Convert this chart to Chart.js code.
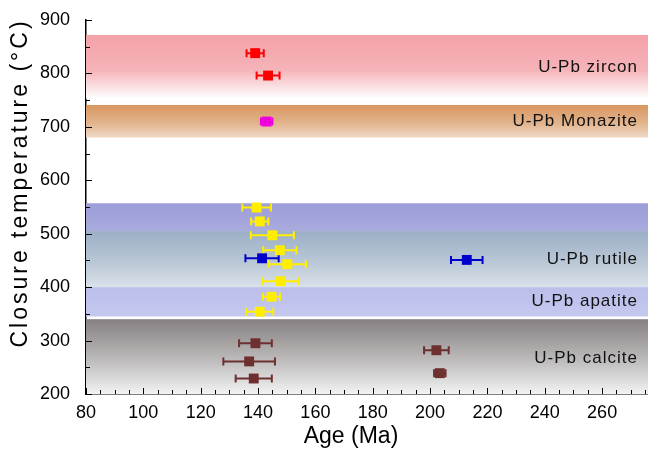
<!DOCTYPE html>
<html>
<head>
<meta charset="utf-8">
<script src="https://cdn.jsdelivr.net/npm/chart.js@4"></script>
<style>
  body { margin: 0; background: #fff; }
  #wrap { width: 648px; height: 450px; }
</style>
</head>
<body>
<div id="wrap"><canvas id="graph"></canvas></div>
<script>
// ages (Ma), closure temperatures (°C) and age errors (±Ma)
const zirconAge = [139, 143.5];
const zirconTemp = [838, 796];
const zirconErr = [3, 4];

const monaziteAge = [143];
const monaziteTemp = [710];
const monaziteErr = [2];

const yellowAge = [139.5, 140.6, 145, 147.6, 150.2, 147.9, 144.7, 140.6];
const yellowTemp = [549, 523, 497, 469, 443, 411, 382, 354];
const yellowErr = [5, 3, 7.5, 5.8, 6.5, 6.2, 3, 4.7];

const rutileAge = [141.4, 212.8];
const rutileTemp = [454, 451];
const rutileErr = [5.8, 5.5];

const calciteAge = [139.1, 136.9, 138.5, 202.2, 203.4];
const calciteTemp = [295, 261, 229, 282, 239];
const calciteErr = [5.7, 9, 6.3, 4.3, 2];

// closure temperature bands (°C)
const bandLow = [753, 680, 505, 400, 345, 200];
const bandHigh = [872, 741, 557, 505, 400, 340];
const bandColors = [
  ["#f3a2a8", "#f5b3b8", "#ffffff"],
  ["#d8965f", "#e2b38c", "#efd9c6"],
  ["#9d9dd9", "#a3a4db", "#a9acdc"],
  ["#9cafc6", "#b9c7d6", "#d9e1e9"],
  ["#bcbfea", "#c0c3ec", "#c6c9ee"],
  ["#868081", "#bdbbbb", "#f3f3f3"]
];

const bandLabels = ["U-Pb zircon", "U-Pb Monazite", "U-Pb rutile", "U-Pb apatite", "U-Pb calcite"];
const bandLabelTemp = [812, 710, 452, 374, 267];
const bandLabelAge = 272.5;

const xTicks = [80, 100, 120, 140, 160, 180, 200, 220, 240, 260];
const yTicks = [200, 300, 400, 500, 600, 700, 800, 900];

const fontFamily = "Arial, 'Liberation Sans', sans-serif";

function pts(ages, temps, errs) {
  return ages.map((a, i) => ({ x: a, y: temps[i], e: errs[i] }));
}

function series(ages, temps, errs, color) {
  return {
    data: pts(ages, temps, errs),
    backgroundColor: color,
    borderColor: color,
    pointStyle: "rect",
    pointRadius: 7,
    pointHoverRadius: 7,
    borderWidth: 0
  };
}

const backdrop = {
  id: "backdrop",
  beforeDatasetsDraw(chart) {
    const { ctx, chartArea, scales } = chart;
    const xs = scales.x, ys = scales.y;
    ctx.save();
    bandLow.forEach((lo, i) => {
      const top = ys.getPixelForValue(bandHigh[i]);
      const bot = ys.getPixelForValue(lo);
      const g = ctx.createLinearGradient(0, top, 0, bot);
      g.addColorStop(0, bandColors[i][0]);
      g.addColorStop(0.55, bandColors[i][1]);
      g.addColorStop(1, bandColors[i][2]);
      ctx.fillStyle = g;
      ctx.fillRect(chartArea.left, top, chartArea.right - chartArea.left, bot - top);
    });

    ctx.font = "17px " + fontFamily;
    ctx.letterSpacing = "1px";
    ctx.fillStyle = "#111";
    ctx.textAlign = "right";
    ctx.textBaseline = "middle";
    bandLabels.forEach((t, i) => {
      ctx.fillText(t, xs.getPixelForValue(bandLabelAge), ys.getPixelForValue(bandLabelTemp[i]));
    });
    ctx.letterSpacing = "0px";

    // error bars
    chart.data.datasets.forEach(ds => {
      ctx.strokeStyle = ds.borderColor;
      ctx.lineWidth = 2;
      ds.data.forEach(p => {
        const x0 = xs.getPixelForValue(p.x - p.e);
        const x1 = xs.getPixelForValue(p.x + p.e);
        const y = ys.getPixelForValue(p.y);
        ctx.beginPath();
        ctx.moveTo(x0, y); ctx.lineTo(x1, y);
        ctx.moveTo(x0, y - 4); ctx.lineTo(x0, y + 4);
        ctx.moveTo(x1, y - 4); ctx.lineTo(x1, y + 4);
        ctx.stroke();
      });
    });

    // inward ticks
    ctx.strokeStyle = "#000";
    ctx.lineWidth = 1;
    ctx.beginPath();
    for (let v = 80; v <= 275; v += 5) {
      const x = Math.round(xs.getPixelForValue(v)) + 0.5;
      const len = v % 20 === 0 ? 6 : 4;
      ctx.moveTo(x, chartArea.bottom); ctx.lineTo(x, chartArea.bottom - len);
    }
    for (let v = 200; v <= 900; v += 50) {
      const y = Math.round(ys.getPixelForValue(v)) + 0.5;
      const len = v % 100 === 0 ? 6 : 4;
      ctx.moveTo(chartArea.left, y); ctx.lineTo(chartArea.left + len, y);
    }
    ctx.stroke();
    ctx.restore();
  },
  afterDraw(chart) {
    const ctx = chart.ctx;
    ctx.save();
    ctx.fillStyle = "#000";
    ctx.textAlign = "center";
    ctx.textBaseline = "middle";
    ctx.font = "23px " + fontFamily;
    ctx.fillText("Age (Ma)", 351, 437);
    ctx.translate(21, 183);
    ctx.rotate(-Math.PI / 2);
    ctx.letterSpacing = "3px";
    ctx.fillText("Closure temperature (°C)", 0, 0);
    ctx.restore();
  }
};

new Chart(document.getElementById("graph").getContext("2d"), {
  type: "scatter",
  data: {
    datasets: [
      series(zirconAge, zirconTemp, zirconErr, "#ff0000"),
      series(monaziteAge, monaziteTemp, monaziteErr, "#ee00dd"),
      series(yellowAge, yellowTemp, yellowErr, "#ffee00"),
      series(rutileAge, rutileTemp, rutileErr, "#0000cc"),
      series(calciteAge, calciteTemp, calciteErr, "#6e2f2f")
    ]
  },
  options: {
    responsive: true,
    maintainAspectRatio: false,
    animation: false,
    layout: { autoPadding: false, padding: { top: 20, right: 0, left: 0, bottom: 0 } },
    plugins: { legend: { display: false }, tooltip: { enabled: false } },
    scales: {
      x: {
        type: "linear",
        min: 80,
        max: 276,
        afterBuildTicks: s => { s.ticks = xTicks.map(v => ({ value: v })); },
        afterFit: s => { s.height = 56; },
        grid: { display: false },
        border: { display: true, color: "#000", width: 1.5 },
        ticks: { color: "#000", font: { family: fontFamily, size: 18 }, padding: 0, maxRotation: 0 }
      },
      y: {
        type: "linear",
        min: 200,
        max: 900,
        afterBuildTicks: s => { s.ticks = yTicks.map(v => ({ value: v })); },
        afterFit: s => { s.width = 86; },
        grid: { display: false },
        border: { display: true, color: "#000", width: 1.5 },
        ticks: { color: "#000", font: { family: fontFamily, size: 18 }, padding: 8 }
      }
    }
  },
  plugins: [backdrop]
});
</script>
</body>
</html>
